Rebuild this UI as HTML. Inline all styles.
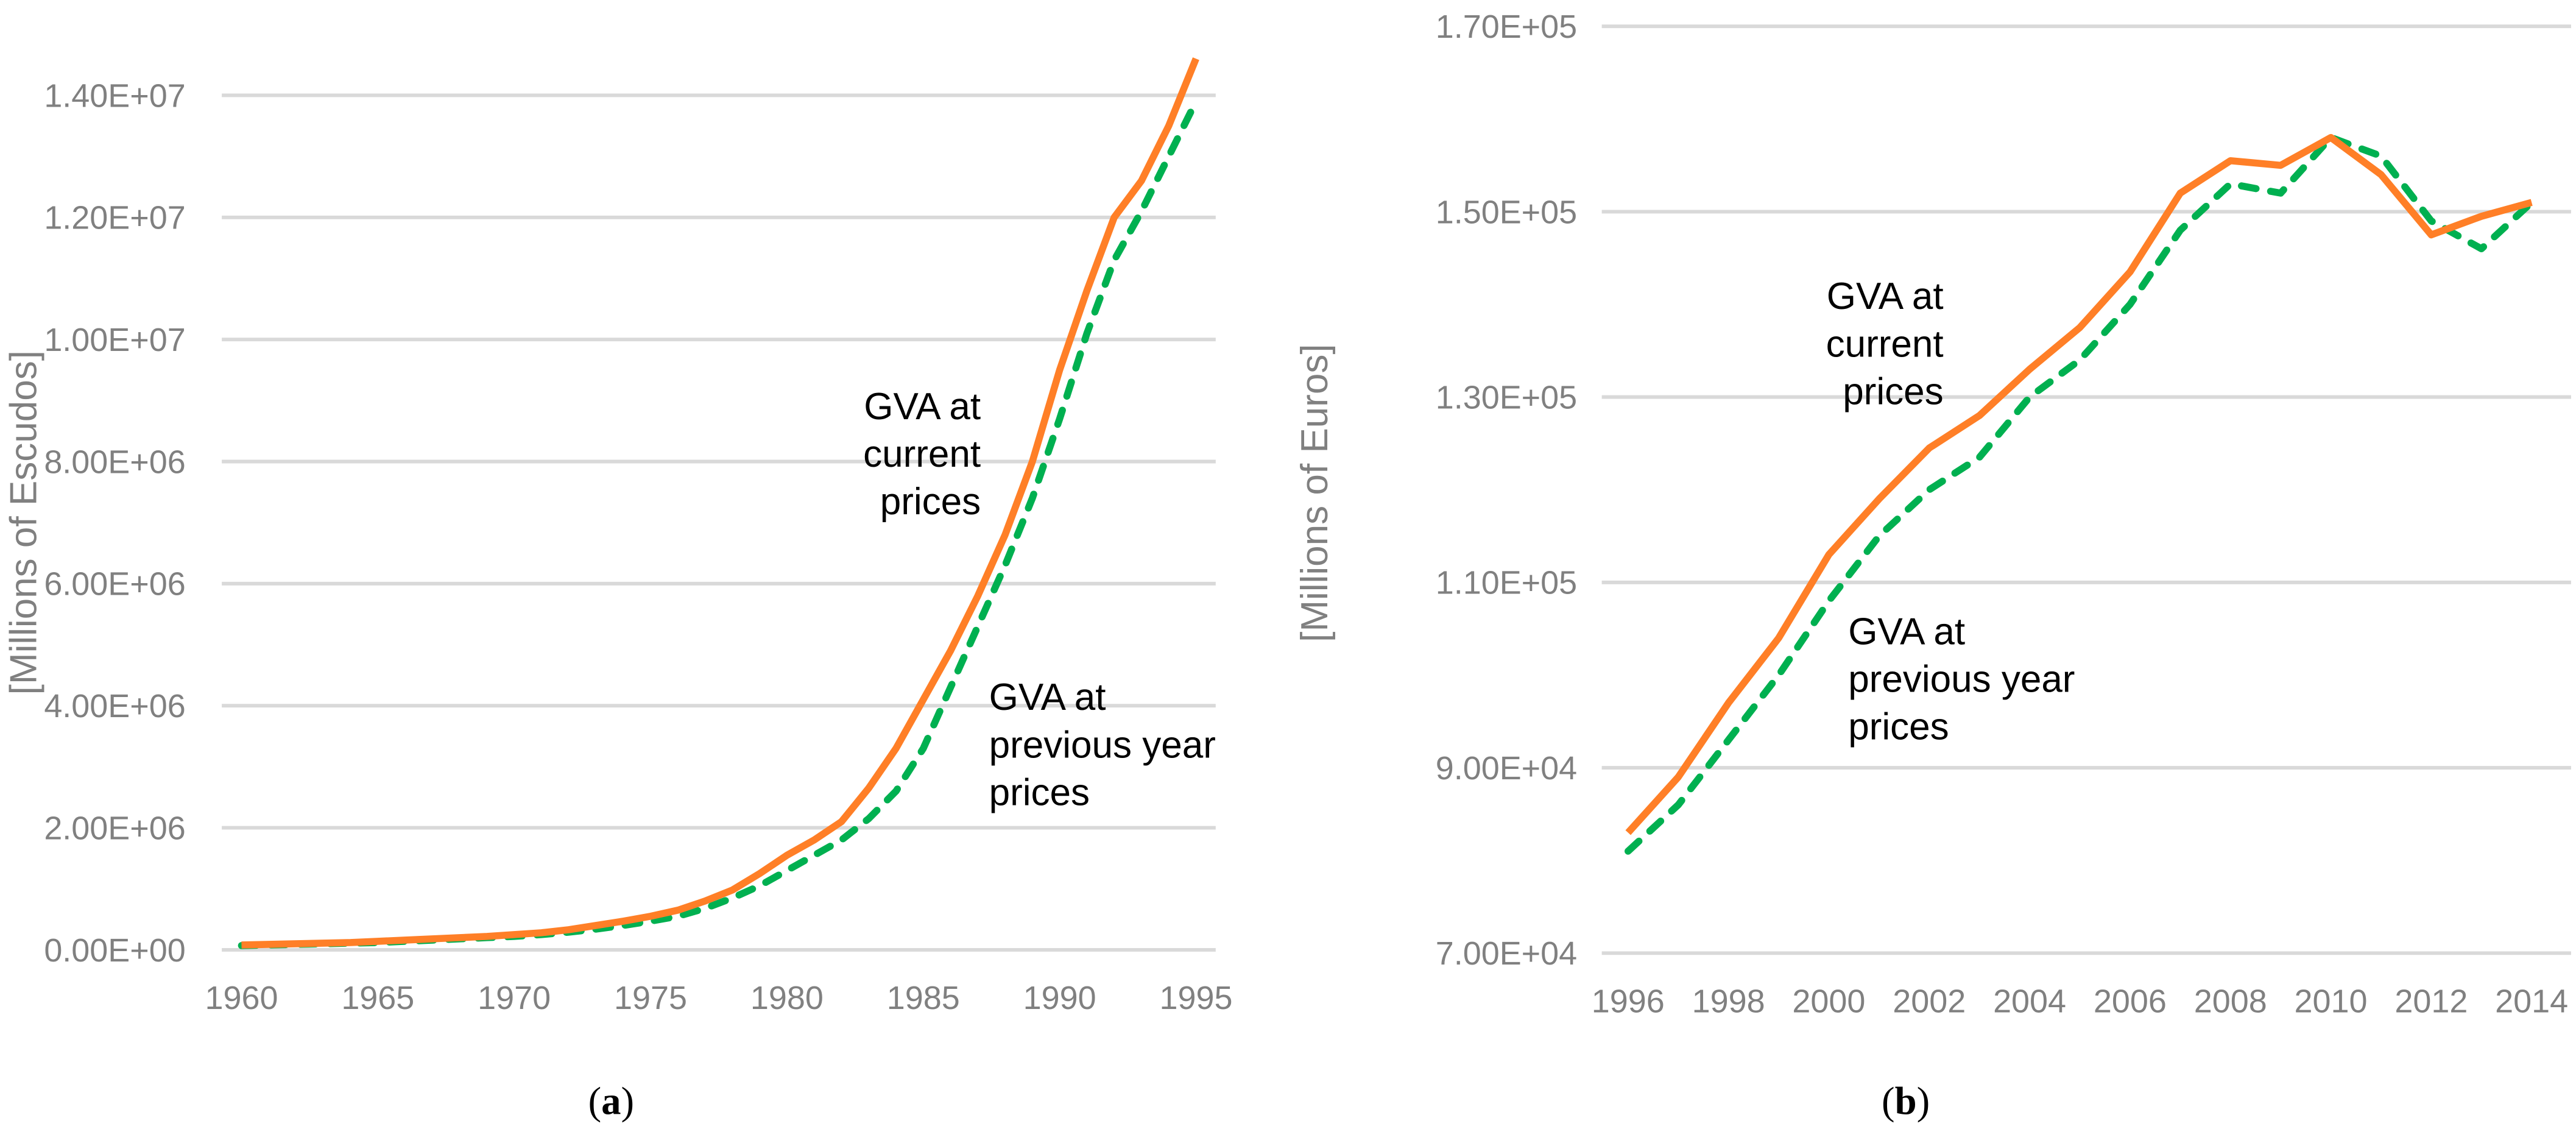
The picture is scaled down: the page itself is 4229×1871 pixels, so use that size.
<!DOCTYPE html>
<html><head><meta charset="utf-8"><style>html,body{margin:0;padding:0;background:#fff}svg{display:block}</style></head>
<body>
<svg id="fig" xmlns="http://www.w3.org/2000/svg" width="4229" height="1871" viewBox="0 0 1568 693.7" font-family="'Liberation Sans', sans-serif">
<rect width="1568" height="693.7" fill="#fff"/>
<g id="ga"></g>
<g id="gb"></g>
<text x="0" y="0" transform="translate(22,318) rotate(-90)" text-anchor="middle" font-size="23" fill="#808080">[Millions of Escudos]</text>
<text x="0" y="0" transform="translate(808,300) rotate(-90)" text-anchor="middle" font-size="23" fill="#808080">[Millions of Euros]</text>
<text x="372" y="678" text-anchor="middle" font-family="'Liberation Serif', serif" font-size="24">(<tspan font-weight="bold">a</tspan>)</text>
<text x="1160" y="678" text-anchor="middle" font-family="'Liberation Serif', serif" font-size="24">(<tspan font-weight="bold">b</tspan>)</text>
<g font-size="23" fill="#000">
<text text-anchor="end"><tspan x="597" y="255">GVA at</tspan><tspan x="597" y="284">current</tspan><tspan x="597" y="313">prices</tspan></text>
<text><tspan x="602" y="432">GVA at</tspan><tspan x="602" y="461">previous year</tspan><tspan x="602" y="490">prices</tspan></text>
<text text-anchor="end"><tspan x="1183" y="188">GVA at</tspan><tspan x="1183" y="217">current</tspan><tspan x="1183" y="246">prices</tspan></text>
<text><tspan x="1125" y="392">GVA at</tspan><tspan x="1125" y="421">previous year</tspan><tspan x="1125" y="450">prices</tspan></text>
</g>
</svg>
<script>
const yearsA = [1960,1961,1962,1963,1964,1965,1966,1967,1968,1969,1970,1971,1972,1973,1974,1975,1976,1977,1978,1979,1980,1981,1982,1983,1984,1985,1986,1987,1988,1989,1990,1991,1992,1993,1994,1995];
const currentA = [0.08,0.09,0.10,0.11,0.12,0.14,0.16,0.18,0.20,0.22,0.25,0.28,0.33,0.40,0.47,0.55,0.65,0.80,0.98,1.25,1.55,1.80,2.10,2.65,3.30,4.10,4.90,5.80,6.80,8.00,9.50,10.80,12.00,12.60,13.50,14.60];
const previousA = [0.07,0.08,0.09,0.10,0.11,0.12,0.14,0.16,0.18,0.20,0.22,0.25,0.29,0.34,0.40,0.47,0.55,0.68,0.85,1.05,1.30,1.55,1.80,2.15,2.60,3.30,4.30,5.30,6.30,7.40,8.70,10.10,11.30,12.10,13.00,13.90];
const ticksA = [0,2,4,6,8,10,12,14];
const tickLabelsA = ["0.00E+00","2.00E+06","4.00E+06","6.00E+06","8.00E+06","1.00E+07","1.20E+07","1.40E+07"];
const xTicksA = [1960,1965,1970,1975,1980,1985,1990,1995];

const yearsB = [1996,1997,1998,1999,2000,2001,2002,2003,2004,2005,2006,2007,2008,2009,2010,2011,2012,2013,2014];
const currentB = [8.30,8.90,9.70,10.40,11.30,11.90,12.45,12.80,13.30,13.75,14.35,15.20,15.55,15.50,15.80,15.40,14.75,14.95,15.10];
const previousB = [8.10,8.60,9.30,10.00,10.80,11.50,12.00,12.35,13.00,13.40,14.00,14.80,15.30,15.20,15.80,15.60,14.90,14.60,15.10];
const ticksB = [7,9,11,13,15,17];
const tickLabelsB = ["7.00E+04","9.00E+04","1.10E+05","1.30E+05","1.50E+05","1.70E+05"];
const xTicksB = [1996,1998,2000,2002,2004,2006,2008,2010,2012,2014];

const NS = "http://www.w3.org/2000/svg";
function mk(tag, attrs, parent) {
  const e = document.createElementNS(NS, tag);
  for (const k in attrs) e.setAttribute(k, attrs[k]);
  parent.appendChild(e);
  return e;
}
function drawChart(g, o) {
  const xs = v => o.x0 + (v - o.xmin) / (o.xmax - o.xmin) * (o.x1 - o.x0);
  const ys = v => o.y0 - (v - o.ymin) / (o.ymax - o.ymin) * (o.y0 - o.y1);
  o.ticks.forEach((t, i) => {
    const l = mk("line", {x1: o.gx0, x2: o.gx1, y1: ys(t), y2: ys(t), stroke: "#d9d9d9", "stroke-width": 2.2}, g);
    
    
    const tx = mk("text", {x: o.lx, y: ys(t) + 7, "text-anchor": "end", "font-size": 20, fill: "#808080"}, g);
    tx.textContent = o.tickLabels[i];
    
    
  });
  o.xTicks.forEach(t => {
    const tx = mk("text", {x: xs(t), y: o.y0 + 36, "text-anchor": "middle", "font-size": 20, fill: "#808080"}, g);
    tx.textContent = String(t);
    
    
  });
  const pts = arr => arr.map((v, i) => xs(o.years[i]).toFixed(2) + "," + ys(v).toFixed(2)).join(" ");
  const p1 = mk("polyline", {points: pts(o.prev), fill: "none", stroke: "#00b050", "stroke-width": 4.3, "stroke-dasharray": "9 9", "stroke-linecap": "round", "stroke-linejoin": "round"}, g);
  
  
  const p2 = mk("polyline", {points: pts(o.cur), fill: "none", stroke: "#ff7f27", "stroke-width": 4.3, "stroke-linejoin": "round"}, g);
  
  
}
drawChart(document.getElementById("ga"), {x0:147, x1:728, xmin:1960, xmax:1995, y0:578, y1:58, ymin:0, ymax:14, gx0:135, gx1:740, lx:113, ticks:ticksA, tickLabels:tickLabelsA, xTicks:xTicksA, years:yearsA, cur:currentA, prev:previousA});
drawChart(document.getElementById("gb"), {x0:991, x1:1541, xmin:1996, xmax:2014, y0:580, y1:16, ymin:7, ymax:17, gx0:975, gx1:1565, lx:960, ticks:ticksB, tickLabels:tickLabelsB, xTicks:xTicksB, years:yearsB, cur:currentB, prev:previousB});
</script>
</body></html>
